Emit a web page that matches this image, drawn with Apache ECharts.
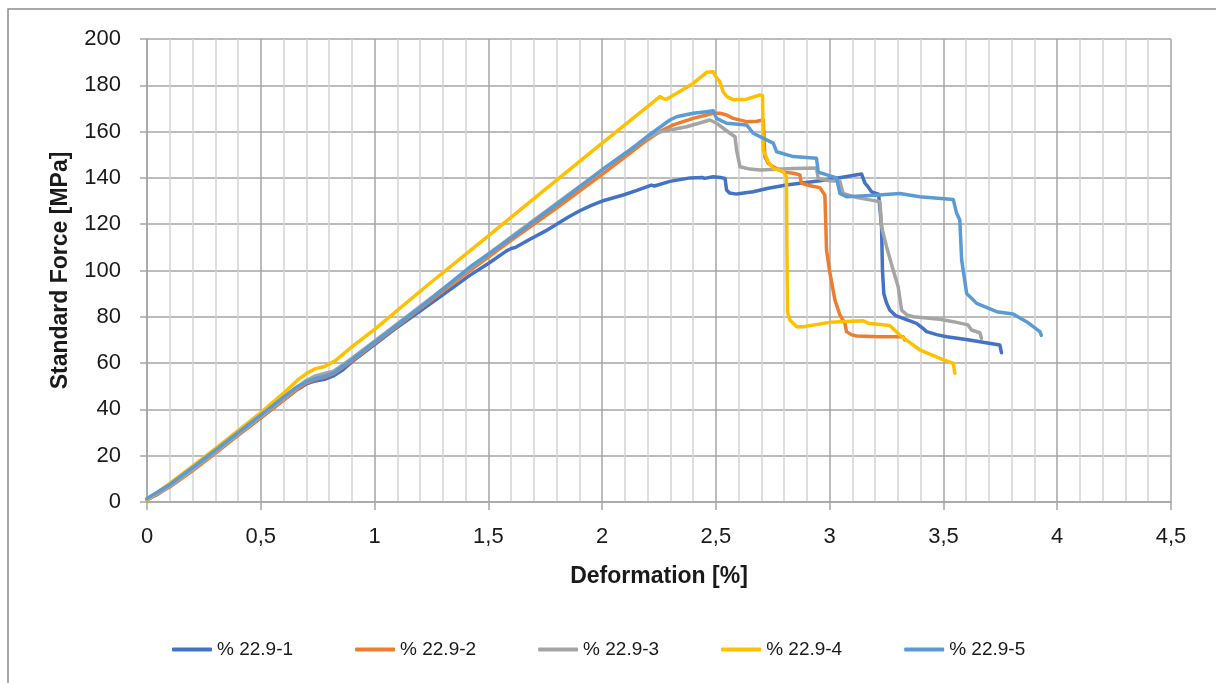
<!DOCTYPE html>
<html>
<head>
<meta charset="utf-8">
<script src="https://cdn.jsdelivr.net/npm/echarts@6/dist/echarts.min.js"></script>
<style>
  html, body { margin: 0; padding: 0; background: #fff; }
  #chart { width: 1216px; height: 683px; }
</style>
</head>
<body>
<div id="chart"></div>
<script>
// Stress–strain curves, five specimens: [deformation %, standard force MPa]
const seriesNames = ['% 22.9-1', '% 22.9-2', '% 22.9-3', '% 22.9-4', '% 22.9-5'];
const seriesColors = ['#4472C4', '#ED7D31', '#A5A5A5', '#FFC000', '#5B9BD5'];

const specimen1 = [[0,1],[0.05,3.5],[0.1,7],[0.2,14],[0.3,21.5],[0.4,29],[0.5,36.3],[0.6,44],[0.66,48.5],[0.7,51],[0.74,52.3],[0.78,53],[0.82,54.5],[0.86,57],[0.9,60.5],[1.0,68],[1.1,75.5],[1.2,82.5],[1.3,89.5],[1.42,98],[1.5,103],[1.58,108.5],[1.6,109.5],[1.62,110],[1.683,113.5],[1.75,117],[1.8,120],[1.85,123],[1.902,125.8],[1.95,128],[2.0,130],[2.093,132.6],[2.15,134.5],[2.217,136.9],[2.23,136.5],[2.298,138.5],[2.386,140],[2.44,140.2],[2.45,139.8],[2.488,140.5],[2.52,140.2],[2.54,139.8],[2.547,134.8],[2.56,133.5],[2.591,133],[2.664,134],[2.73,135.5],[2.81,136.9],[2.957,138.8],[3.05,140.2],[3.14,141.7],[3.155,137.7],[3.17,136],[3.184,134],[3.215,133],[3.228,118.9],[3.232,100],[3.238,90],[3.25,86],[3.264,82.9],[3.29,80.5],[3.323,79.3],[3.382,77.2],[3.41,75],[3.426,73.6],[3.47,72.3],[3.514,71.4],[3.6,70.2],[3.66,69.2],[3.748,67.8],[3.755,64.5]];

const specimen2 = [[0,1],[0.1,6.5],[0.2,13.5],[0.3,21],[0.4,28.8],[0.5,36.3],[0.6,44],[0.66,48.8],[0.7,51.5],[0.74,53],[0.78,54],[0.82,55.5],[0.9,61],[1.0,68.5],[1.2,83.5],[1.4,98.5],[1.6,113],[1.8,127],[2.0,141.5],[2.12,150.5],[2.2,156.5],[2.254,160],[2.312,162.9],[2.4,165.7],[2.488,167.9],[2.518,167.9],[2.547,167.2],[2.576,165.7],[2.635,164.3],[2.68,164.5],[2.708,165],[2.712,158],[2.715,149.2],[2.73,146.3],[2.752,144.8],[2.8,142.5],[2.84,142],[2.869,141.3],[2.876,137.7],[2.92,136.5],[2.957,135.8],[2.979,132.5],[2.983,120],[2.986,109],[3.0,99.5],[3.023,87.3],[3.045,80.8],[3.067,77.2],[3.074,73.6],[3.095,72.3],[3.118,71.7],[3.221,71.4],[3.323,71.4],[3.33,70]];

const specimen3 = [[0,1],[0.1,6.8],[0.2,14],[0.3,21.5],[0.4,29.3],[0.5,37],[0.6,44.8],[0.66,49.5],[0.7,52.5],[0.74,54.5],[0.78,55.5],[0.82,56.5],[0.9,62],[1.0,69.5],[1.2,84.5],[1.4,99.5],[1.6,114.5],[1.8,129],[2.0,143.5],[2.12,152],[2.2,157.5],[2.26,160],[2.298,160.7],[2.371,162.1],[2.474,165],[2.503,163.6],[2.562,159.3],[2.584,157.8],[2.591,152],[2.606,144.8],[2.65,143.8],[2.694,143.4],[2.84,144.1],[2.942,144.3],[2.95,139.8],[3.0,138.8],[3.045,138.6],[3.059,133.3],[3.12,131.5],[3.177,130.5],[3.221,129.7],[3.228,118.9],[3.25,110.3],[3.279,100.2],[3.301,93],[3.316,82.9],[3.34,80.8],[3.367,80],[3.484,78.9],[3.543,77.9],[3.608,76.5],[3.623,74.3],[3.66,73.1],[3.667,70.7]];

const specimen4 = [[0,1],[0.1,8],[0.2,15.5],[0.3,23],[0.4,30.8],[0.5,38.6],[0.6,47],[0.66,52.5],[0.7,55.5],[0.738,57.5],[0.78,58.5],[0.826,61],[0.9,67],[1.0,74.6],[1.243,94.5],[1.5,115],[1.75,135],[2.0,155],[2.254,175.1],[2.27,174.2],[2.283,174],[2.4,180.8],[2.459,185.6],[2.466,186.3],[2.488,185.9],[2.5,183.7],[2.517,181.6],[2.532,177.2],[2.55,175],[2.576,173.8],[2.635,174],[2.693,175.8],[2.705,175.5],[2.708,152],[2.73,147],[2.752,144.1],[2.796,142.7],[2.81,140.5],[2.812,110],[2.815,82],[2.825,78.6],[2.855,75.7],[2.884,75.7],[2.999,77.6],[3.147,78.3],[3.169,77.2],[3.264,76.2],[3.308,72.1],[3.396,65.7],[3.484,62],[3.543,59.9],[3.55,55.6]];

const specimen5 = [[0,1.5],[0.1,7.5],[0.2,14.8],[0.3,22.3],[0.4,30],[0.5,37.5],[0.6,45.3],[0.66,49.8],[0.7,52],[0.74,53.3],[0.78,54.3],[0.82,55.8],[0.9,61.5],[1.0,69],[1.2,84],[1.419,101.5],[1.6,114],[1.8,128.5],[2.0,143.5],[2.122,152],[2.2,158],[2.298,165],[2.327,166.4],[2.4,167.9],[2.459,168.6],[2.488,169],[2.503,165.7],[2.547,163.6],[2.635,162.9],[2.664,159.3],[2.752,155],[2.767,151.3],[2.84,149.2],[2.942,148.5],[2.95,142.5],[3.03,140],[3.045,133.3],[3.074,131.9],[3.2,132.5],[3.308,133.3],[3.396,131.9],[3.543,130.7],[3.558,124.7],[3.572,121.8],[3.58,104.5],[3.602,90.1],[3.646,85.8],[3.734,82.2],[3.806,81.2],[3.865,77.9],[3.924,73.6],[3.93,72]];

const allSpecimens = [specimen1, specimen2, specimen3, specimen4, specimen5];

const xAxisTitle = 'Deformation [%]';
const yAxisTitle = 'Standard Force [MPa]';

const chart = echarts.init(document.getElementById('chart'), null, { renderer: 'canvas' });
const fontFamily = '"Liberation Sans", Arial, sans-serif';
const majorLine = '#a6a6a6';
const minorLine = '#d4d4d4';

chart.setOption({
  animation: false,
  backgroundColor: '#ffffff',
  color: seriesColors,
  graphic: [{
    type: 'rect',
    silent: true,
    shape: { x: 8, y: 9, width: 1400, height: 900 },
    style: { fill: 'none', stroke: '#8c8c8c', lineWidth: 1.5 }
  }],
  grid: { left: 147, top: 39, right: 45, bottom: 181, containLabel: false },
  xAxis: {
    type: 'value',
    min: 0, max: 4.5, interval: 0.5,
    name: xAxisTitle,
    nameLocation: 'middle',
    nameGap: 63,
    nameTextStyle: { fontFamily, fontSize: 23, fontWeight: 'bold', color: '#1a1a1a' },
    axisLine: { show: true, lineStyle: { color: majorLine, width: 1.5 } },
    axisTick: { show: true, length: 8, lineStyle: { color: majorLine, width: 1.5 } },
    axisLabel: {
      margin: 24, fontFamily, fontSize: 22, color: '#1a1a1a',
      formatter: v => String(v).replace('.', ',')
    },
    splitLine: { show: true, lineStyle: { color: majorLine, width: 1.5 } },
    minorTick: { show: false, splitNumber: 5 },
    minorSplitLine: { show: true, lineStyle: { color: minorLine, width: 1.5 } }
  },
  yAxis: {
    type: 'value',
    min: 0, max: 200, interval: 20,
    name: yAxisTitle,
    nameLocation: 'middle',
    nameGap: 75,
    nameTextStyle: { fontFamily, fontSize: 23, fontWeight: 'bold', color: '#1a1a1a' },
    axisLine: { show: true, lineStyle: { color: majorLine, width: 1.5 } },
    axisTick: { show: true, length: 7, lineStyle: { color: majorLine, width: 1.5 } },
    axisLabel: { margin: 26, fontFamily, fontSize: 22, color: '#1a1a1a' },
    splitLine: { show: true, lineStyle: { color: majorLine, width: 1.5 } }
  },
  legend: {
    bottom: 19,
    left: 167,
    itemWidth: 40,
    itemHeight: 4,
    itemGap: 62,
    icon: 'roundRect',
    textStyle: { fontFamily, fontSize: 19, color: '#1a1a1a' },
    data: seriesNames
  },
  series: allSpecimens.map((pts, i) => ({
    name: seriesNames[i],
    type: 'line',
    data: pts,
    showSymbol: false,
    symbol: 'none',
    smooth: false,
    lineStyle: { width: 3.5, color: seriesColors[i], join: 'round', cap: 'round' },
    itemStyle: { color: seriesColors[i] }
  }))
});
</script>
</body>
</html>
